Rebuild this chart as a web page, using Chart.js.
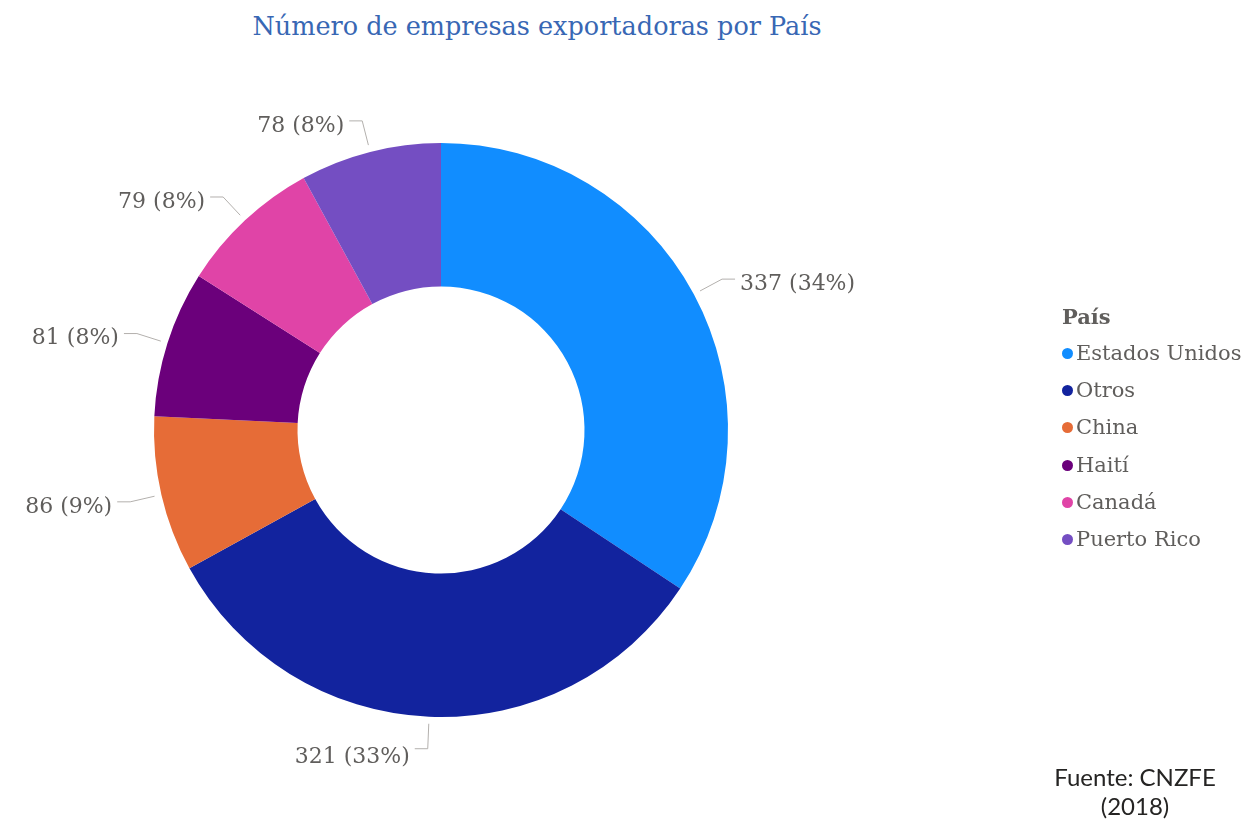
<!DOCTYPE html>
<html>
<head>
<meta charset="utf-8">
<script src="https://cdn.jsdelivr.net/npm/chart.js@4.4.1/dist/chart.umd.min.js"></script>
<style>
body { margin: 0; background: #fff; width: 1243px; height: 821px; overflow: hidden; position: relative; font-family: 'DejaVu Serif', serif; }
#title { position: absolute; left: 0; width: 1074px; top: 11px; text-align: center; color: #3867B4; font-size: 25.5px; }
#chart { position: absolute; left: 0; top: 0; }
#legend { position: absolute; left: 1062px; top: 298px; color: #605E5C; font-size: 21px; }
#legend .head { font-weight: bold; height: 37px; line-height: 37px; }
#legend .item { height: 37.2px; line-height: 37px; white-space: nowrap; }
#legend .dot { display: inline-block; width: 11px; height: 11px; border-radius: 50%; margin-right: 3px; vertical-align: 1px; }
#source { position: absolute; left: 1030px; width: 210px; top: 762px; text-align: center; font-family: Lato, sans-serif; font-size: 24px; color: #252423; line-height: 29px; }
</style>
</head>
<body>
<div id="title">Número de empresas exportadoras por País</div>
<canvas id="chart" width="1243" height="821"></canvas>
<div id="legend"></div>
<div id="source">Fuente: CNZFE<br>(2018)</div>
<script>
const countries = ['Estados Unidos', 'Otros', 'China', 'Haití', 'Canadá', 'Puerto Rico'];
const counts = [337, 321, 86, 81, 79, 78];
const colors = ['#118DFF', '#12239E', '#E66C37', '#6B007B', '#E044A7', '#744EC2'];
const legendTitle = 'País';

// Legend built from the same arrays
const legend = document.getElementById('legend');
legend.innerHTML = `<div class="head">${legendTitle}</div>` +
    countries.map((c, i) => `<div class="item"><span class="dot" style="background:${colors[i]}"></span>${c}</div>`).join('');

// Data labels with leader lines
const sliceLabels = {
    id: 'sliceLabels',
    afterDatasetsDraw(chart) {
        const ctx = chart.ctx;
        const total = counts.reduce((a, b) => a + b, 0);
        chart.getDatasetMeta(0).data.forEach((arc, i) => {
            const p = arc.getProps(['x', 'y', 'startAngle', 'endAngle', 'outerRadius'], true);
            const mid = (p.startAngle + p.endAngle) / 2;
            const cos = Math.cos(mid), sin = Math.sin(mid);
            const x0 = p.x + cos * (p.outerRadius + 7), y0 = p.y + sin * (p.outerRadius + 7);
            const x1 = p.x + cos * (p.outerRadius + 32), y1 = p.y + sin * (p.outerRadius + 32);
            const dir = cos >= 0 ? 1 : -1;
            const x2 = x1 + dir * 13;
            ctx.save();
            ctx.strokeStyle = '#B3B0AD';
            ctx.lineWidth = 1;
            ctx.beginPath();
            ctx.moveTo(x0, y0);
            ctx.lineTo(x1, y1);
            ctx.lineTo(x2, y1);
            ctx.stroke();
            ctx.fillStyle = '#605E5C';
            ctx.font = '22px "DejaVu Serif"';
            ctx.textBaseline = 'middle';
            ctx.textAlign = dir > 0 ? 'left' : 'right';
            const pct = Math.round(counts[i] / total * 100);
            ctx.fillText(`${counts[i]} (${pct}%)`, x2 + dir * 5, y1 + 5 + 4 * Math.max(sin, 0));
            ctx.restore();
        });
    }
};

new Chart(document.getElementById('chart'), {
    type: 'doughnut',
    data: {
        labels: countries,
        datasets: [{
            data: counts,
            backgroundColor: colors,
            borderWidth: 0
        }]
    },
    options: {
        responsive: false,
        animation: false,
        cutout: '50%',
        layout: { padding: { left: 154, right: 515, top: 143, bottom: 104 } },
        plugins: {
            legend: { display: false },
            tooltip: { enabled: false }
        }
    },
    plugins: [sliceLabels]
});
</script>
</body>
</html>
